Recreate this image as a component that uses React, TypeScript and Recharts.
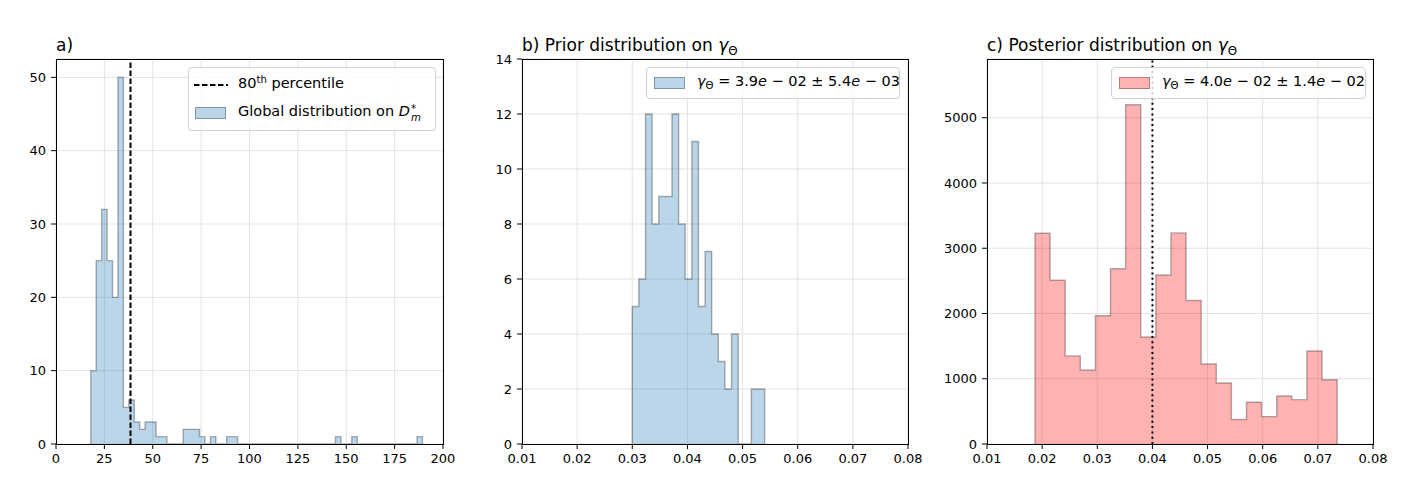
import React from 'react';
import { ComposedChart, Area, XAxis, YAxis, CartesianGrid, ReferenceLine } from 'recharts';

// a) global distribution on D*_m (equal-width bins)
const globalStart = 17.97;
const globalWidth = 2.81;
const globalCounts = [
  10, 25, 32, 25, 20, 50, 5, 6, 3, 2, 3, 3, 1, 1, 0, 0, 0, 2, 2, 2, 1, 0, 1, 0, 0, 1, 1,
  0, 0, 0, 0, 0, 0, 0, 0, 0, 0, 0, 0, 0, 0, 0, 0, 0, 0,
  1, 0, 0, 1,
  0, 0, 0, 0, 0, 0, 0, 0, 0, 0, 0,
  1,
];
const percentile80 = 38.5;
const globalTicksX = [0, 25, 50, 75, 100, 125, 150, 175, 200];
const globalTicksY = [0, 10, 20, 30, 40, 50];

// b) prior distribution on gamma
const priorStart = 0.03;
const priorWidth = 0.0012;
const priorCounts = [5, 6, 12, 8, 9, 9, 12, 8, 6, 11, 5, 7, 4, 3, 2, 4, 0, 0, 2, 2];
const priorTicksY = [0, 2, 4, 6, 8, 10, 12, 14];

// c) posterior distribution on gamma
const postStart = 0.0187;
const postWidth = 0.00274;
const postCounts = [
  3230, 2510, 1350, 1135, 1965, 2685, 5200, 1640, 2590, 3235,
  2200, 1225, 935, 375, 640, 420, 735, 680, 1425, 985,
];
const postMean = 0.04;
const postTicksY = [0, 1000, 2000, 3000, 4000, 5000];

const gammaTicksX = [0.01, 0.02, 0.03, 0.04, 0.05, 0.06, 0.07, 0.08];

const FONT = '"DejaVu Sans", sans-serif';
const BLUE = '#1f77b4';
const RED = '#ff0000';

// stepped outline of a histogram: up at the first edge, down at the last one
function toSteps(start: number, width: number, counts: number[]) {
  const pts = [{ x: start, y: 0 }];
  counts.forEach((c, i) => pts.push({ x: start + i * width, y: c }));
  pts.push({ x: start + counts.length * width, y: 0 });
  return pts;
}

const TOP = 59;
const BOTTOM = 444;
const YW = 50;
const RM = 30;

interface PanelProps {
  left: number;
  plotW: number;
  data: { x: number; y: number }[];
  color: string;
  xDomain: [number, number];
  yDomain: [number, number];
  xTicks: number[];
  yTicks: number[];
  xFmt?: (v: number) => string;
  children?: React.ReactNode;
}

const Panel: React.FC<PanelProps> = ({ left, plotW, data, color, xDomain, yDomain, xTicks, yTicks, xFmt, children }) => {
  const tick = { fill: '#000', fontSize: 13, fontFamily: FONT };
  return (
    <>
      <div style={{ position: 'absolute', left: left - YW, top: 0 }}>
        <ComposedChart
          width={YW + plotW + RM}
          height={497}
          data={data}
          margin={{ top: TOP, right: RM, bottom: 497 - BOTTOM - 30, left: 0 }}
        >
          <CartesianGrid stroke="#e3e3e3" strokeWidth={1} />
          <XAxis
            dataKey="x"
            type="number"
            domain={xDomain}
            ticks={xTicks}
            allowDataOverflow
            axisLine={false}
            tickLine={{ stroke: '#000' }}
            tickSize={5}
            tickMargin={5}
            height={30}
            tick={tick}
            tickFormatter={xFmt}
            interval={0}
          />
          <YAxis
            type="number"
            domain={yDomain}
            ticks={yTicks}
            allowDataOverflow
            axisLine={false}
            tickLine={{ stroke: '#000' }}
            tickSize={5}
            tickMargin={5}
            width={YW}
            tick={tick}
            interval={0}
          />
          <Area
            dataKey="y"
            type="stepAfter"
            fill={color}
            fillOpacity={0.3}
            stroke="#000"
            strokeOpacity={0.3}
            strokeWidth={1.4}
            isAnimationActive={false}
            dot={false}
            activeDot={false}
          />
          {children}
        </ComposedChart>
      </div>
      <div
        style={{
          position: 'absolute',
          left: left,
          top: TOP,
          width: plotW + 1,
          height: BOTTOM - TOP + 1,
          border: '1px solid #000',
          boxSizing: 'border-box',
          pointerEvents: 'none',
        }}
      />
    </>
  );
};

const Gamma: React.FC = () => (
  <span>
    <i>γ</i>
    <span style={{ fontSize: '0.7em', position: 'relative', top: '0.3em' }}>Θ</span>
  </span>
);

const legendBox: React.CSSProperties = {
  position: 'absolute',
  top: 67,
  border: '1px solid #d0d0d0',
  borderRadius: 4,
  background: 'rgba(255,255,255,0.8)',
  fontFamily: FONT,
  fontSize: 14.5,
  color: '#000',
  boxSizing: 'border-box',
};

const patch = (color: string): React.CSSProperties => ({
  position: 'absolute',
  width: 31,
  height: 12,
  background: color,
  border: '1px solid rgba(0,0,0,0.3)',
  boxSizing: 'border-box',
});

const title: React.CSSProperties = {
  position: 'absolute',
  top: 37,
  fontFamily: FONT,
  fontSize: 17,
  lineHeight: '17px',
  color: '#000',
  whiteSpace: 'nowrap',
};

const App: React.FC = () => {
  const fmt2 = (v: number) => v.toFixed(2);
  return (
    <div style={{ position: 'absolute', left: 0, top: 0, width: 1404, height: 497, background: '#fff', overflow: 'hidden' }}>
      <Panel
        left={56}
        plotW={387}
        data={toSteps(globalStart, globalWidth, globalCounts)}
        color={BLUE}
        xDomain={[0, 200]}
        yDomain={[0, 52.5]}
        xTicks={globalTicksX}
        yTicks={globalTicksY}
      >
        <ReferenceLine x={percentile80} stroke="#000" strokeWidth={2} strokeDasharray="5.5 2.5" />
      </Panel>
      <Panel
        left={522}
        plotW={386}
        data={toSteps(priorStart, priorWidth, priorCounts)}
        color={BLUE}
        xDomain={[0.01, 0.08]}
        yDomain={[0, 14]}
        xTicks={gammaTicksX}
        yTicks={priorTicksY}
        xFmt={fmt2}
      />
      <Panel
        left={987}
        plotW={386}
        data={toSteps(postStart, postWidth, postCounts)}
        color={RED}
        xDomain={[0.01, 0.08]}
        yDomain={[0, 5900]}
        xTicks={gammaTicksX}
        yTicks={postTicksY}
        xFmt={fmt2}
      >
        <ReferenceLine x={postMean} stroke="#000" strokeWidth={2} strokeDasharray="2 3.3" />
      </Panel>

      <div style={{ ...title, left: 56 }}>a)</div>
      <div style={{ ...title, left: 522 }}>
        b) Prior distribution on <Gamma />
      </div>
      <div style={{ ...title, left: 987 }}>
        c) Posterior distribution on <Gamma />
      </div>

      <div style={{ ...legendBox, left: 188, width: 248, height: 64 }}>
        <svg style={{ position: 'absolute', left: 5, top: 15 }} width={34} height={4}>
          <line x1={0} y1={2} x2={34} y2={2} stroke="#000" strokeWidth={2} strokeDasharray="5.5 2.5" />
        </svg>
        <div style={{ position: 'absolute', left: 49, top: 7, whiteSpace: 'nowrap' }}>
          80<sup style={{ fontSize: '0.7em', verticalAlign: 'baseline', position: 'relative', top: '-0.5em' }}>th</sup> percentile
        </div>
        <div style={{ ...patch('rgba(31,119,180,0.3)'), left: 6, top: 39 }} />
        <div style={{ position: 'absolute', left: 49, top: 35, whiteSpace: 'nowrap' }}>
          Global distribution on <i>D</i>
          <span
            style={{
              display: 'inline-flex',
              flexDirection: 'column',
              verticalAlign: '0.42em',
              lineHeight: 0.9,
              fontSize: '0.7em',
              marginLeft: 1,
            }}
          >
            <span>*</span>
            <span><i>m</i></span>
          </span>
        </div>
      </div>

      <div style={{ ...legendBox, left: 646, width: 254, height: 32 }}>
        <div style={{ ...patch('rgba(31,119,180,0.3)'), left: 7, top: 9 }} />
        <div style={{ position: 'absolute', left: 50, top: 5, whiteSpace: 'nowrap' }}>
          <Gamma /> = 3.9<i>e</i> − 02 ± 5.4<i>e</i> − 03
        </div>
      </div>

      <div style={{ ...legendBox, left: 1111, width: 255, height: 32 }}>
        <div style={{ ...patch('rgba(255,0,0,0.3)'), left: 7, top: 9 }} />
        <div style={{ position: 'absolute', left: 50, top: 5, whiteSpace: 'nowrap' }}>
          <Gamma /> = 4.0<i>e</i> − 02 ± 1.4<i>e</i> − 02
        </div>
      </div>
    </div>
  );
};

export default App;
